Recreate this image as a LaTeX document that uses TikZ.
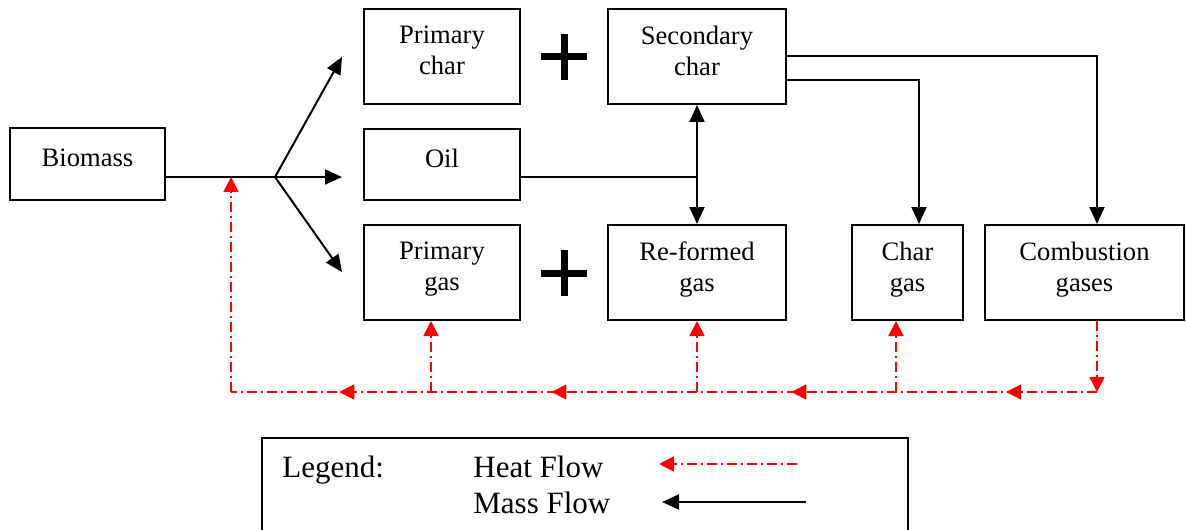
\documentclass[tikz,border=0pt]{standalone}
\usepackage{fontspec}
\setmainfont{Liberation Serif}
\usetikzlibrary{arrows.meta, positioning, decorations.markings}
\definecolor{heatred}{RGB}{255, 0, 0}

\begin{document}
\begin{tikzpicture}[x=0.5pt, y=-0.5pt, >={Triangle[length=8.5pt, width=7.5pt]},
  every node/.style={font=\fontsize{13.3}{15.5}\selectfont},
  box/.style={draw, line width=1pt, align=center, inner sep=2pt, text depth=6pt},
  legendtext/.style={font=\fontsize{15.5}{18}\selectfont, inner sep=0pt},
  plussign/.style={minimum size=23pt, inner sep=0pt, path picture={\draw[line width=3.5pt] (path picture bounding box.north) -- (path picture bounding box.south) (path picture bounding box.west) -- (path picture bounding box.east);}},
  mass/.style={line width=1pt},
  heat/.style={heatred, line width=0.8pt, dash pattern=on 5pt off 2pt on 1pt off 2pt, >={Triangle[length=7.5pt, width=7.5pt]}}]
\useasboundingbox (0,0) rectangle (1186,529);

\node[box, minimum width=77.5pt, minimum height=36pt] (biomass) at (87.5,164) {Biomass};
\node[box, minimum width=78pt, minimum height=47.5pt] (pchar) at (442,56.5) {Primary\\char};
\node[box, minimum width=89pt, minimum height=47.5pt] (schar) at (697,56.5) {Secondary\\char};
\node[box, minimum width=78pt, minimum height=35.5pt] (oil) at (442,164.5) {Oil};
\node[box, minimum width=78pt, minimum height=47.5pt] (pgas) at (442,272.5) {Primary\\gas};
\node[box, minimum width=89pt, minimum height=47.5pt] (rgas) at (697,272.5) {Re-formed\\gas};
\node[box, minimum width=55.5pt, minimum height=47.5pt] (cgas) at (907.5,272.5) {Char\\gas};
\node[box, minimum width=99.5pt, minimum height=47.5pt] (comb) at (1084.5,272.5) {Combustion\\gases};

\node[plussign] (plustop) at (564,57) {};
\node[plussign] (plusbot) at (564,273) {};

\coordinate (split) at (275,177);
\coordinate (topchar) at (342,57);
\coordinate (tooil) at (342,177);
\coordinate (topgas) at (342,272);
\coordinate (oiljoin) at (697,177);

\draw[mass] (split -| biomass.east) -- (split);
\draw[mass,->] (split) -- (topchar);
\draw[mass,->] (split) -- (tooil);
\draw[mass,->] (split) -- (topgas);
\draw[mass] (split -| oil.east) -- (oiljoin);
\draw[mass,<->] (schar) -- (rgas);
\draw[mass,->] (schar.east) -| ([xshift=6.25pt]comb.north);
\draw[mass,->] ([yshift=-12pt]schar.east) -| ([xshift=5.75pt]cgas.north);

\coordinate (hcomb) at (1097,392);
\coordinate (hchar) at (896,392);
\coordinate (href) at (697,392);
\coordinate (hpgas) at (431,392);
\coordinate (hleft) at (231,392);

\draw[heat,->] ([xshift=6.25pt]comb.south) -- (hcomb);
\draw[heat, postaction={decorate}, decoration={markings,
    mark=at position 0.105 with {\arrow{>}},
    mark=at position 0.353 with {\arrow{>}},
    mark=at position 0.630 with {\arrow{>}},
    mark=at position 0.875 with {\arrow{>}}}] (hcomb) -- (hleft);
\draw[heat,->] (hchar) -- (hchar |- cgas.south);
\draw[heat,->] (href) -- (rgas.south);
\draw[heat,->] (hpgas) -- (hpgas |- pgas.south);
\draw[heat,->] (hleft) -- (hleft |- split);

\node[draw, line width=1pt, minimum width=323pt, minimum height=62pt, anchor=north west] (legend) at (261,437) {};
\node[legendtext, anchor=base west] (leglabel) at (282,477) {Legend:};
\node[legendtext, anchor=base west] (heatlabel) at (473,477) {Heat Flow};
\node[legendtext, anchor=base west] (masslabel) at (473,513) {Mass Flow};
\coordinate (heatr) at (797,464);
\coordinate (heatl) at (659,464);
\coordinate (massr) at (806,502);
\coordinate (massl) at (662,502);
\draw[heat,->] (heatr) -- (heatl);
\draw[mass,->] (massr) -- (massl);
\end{tikzpicture}
\end{document}
